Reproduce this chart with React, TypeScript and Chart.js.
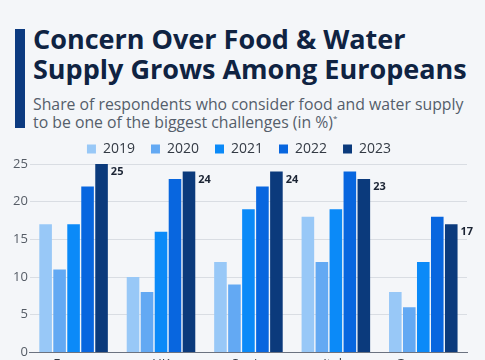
import React, { useEffect, useRef } from "react";
import { Chart, registerables } from "chart.js";

Chart.register(...registerables);

const categories = ["France", "UK", "Spain", "Italy", "Germany"];
const years = ["2019", "2020", "2021", "2022", "2023"];
const v2019 = [17, 10, 12, 18, 8];
const v2020 = [11, 8, 9, 12, 6];
const v2021 = [17, 16, 19, 19, 12];
const v2022 = [22, 23, 22, 24, 18];
const v2023 = [25, 24, 24, 23, 17];
const seriesValues = [v2019, v2020, v2021, v2022, v2023];
const colors = ["#98c8f7", "#63a9f3", "#0b8af8", "#0866df", "#0b3a7c"];
const yTicks = [0, 5, 10, 15, 20, 25];

const FONT = "'Open Sans', 'Noto Sans', sans-serif";

const lastLabels = {
  id: "lastLabels",
  afterDatasetsDraw(chart: any) {
    const ctx = chart.ctx;
    const idx = chart.data.datasets.length - 1;
    const meta = chart.getDatasetMeta(idx);
    ctx.save();
    ctx.font = `bold 11px ${FONT}`;
    ctx.fillStyle = "#1b2434";
    ctx.textAlign = "left";
    ctx.textBaseline = "middle";
    meta.data.forEach((bar: any, i: number) => {
      const w = bar.width;
      ctx.fillText(String(chart.data.datasets[idx].data[i]), bar.x + w / 2 + 3, bar.y + 8);
    });
    ctx.restore();
  },
};

const legendShrink = {
  id: "legendShrink",
  beforeInit(chart: any) {
    const orig = chart.legend.fit;
    chart.legend.fit = function () {
      orig.bind(this)();
      this.height -= 2;
    };
  },
};

export default function App() {
  const ref = useRef<HTMLCanvasElement>(null);
  useEffect(() => {
    if (!ref.current) return;
    const chart = new Chart(ref.current, {
      type: "bar",
      data: {
        labels: categories,
        datasets: years.map((y, i) => ({
          label: y,
          data: seriesValues[i],
          backgroundColor: colors[i],
          borderWidth: 0,
          categoryPercentage: 0.8,
          barPercentage: 0.9,
        })),
      },
      options: {
        animation: false,
        responsive: false,
        maintainAspectRatio: false,
        layout: { padding: { left: 11, right: 18, top: 0, bottom: 0 } },
        plugins: {
          legend: {
            position: "top",
            labels: {
              boxWidth: 9,
              boxHeight: 9,
              padding: 16,
              color: "#333a44",
              font: { family: FONT, size: 14 },
            },
          },
          tooltip: { enabled: false },
        },
        scales: {
          x: {
            grid: { display: false, drawTicks: false },
            border: { color: "#6b7280", width: 1 },
            ticks: { color: "#333a44", font: { family: FONT, size: 13 }, padding: 4 },
          },
          y: {
            min: 0,
            max: 25,
            afterBuildTicks(axis: any) {
              axis.ticks = yTicks.map((v) => ({ value: v }));
            },
            grid: { color: "#d9dde3", drawTicks: false },
            border: { display: false },
            ticks: { color: "#555c66", font: { family: FONT, size: 13 }, padding: 2 },
          },
        },
      },
      plugins: [lastLabels, legendShrink],
    });
    return () => chart.destroy();
  }, []);

  return (
    <div
      style={{
        position: "fixed",
        left: 0,
        top: 0,
        width: 485,
        height: 360,
        overflow: "hidden",
        background: "#f4f6f9",
        fontFamily: FONT,
      }}
    >
      <div style={{ position: "absolute", left: 15, top: 29, width: 10, height: 99, background: "#0c3a80" }} />
      <div
        style={{
          position: "absolute",
          left: 33,
          top: 24,
          fontSize: 27,
          lineHeight: "30px",
          fontWeight: 700,
          color: "#0f2342",
          whiteSpace: "nowrap",
        }}
      >
        Concern Over Food &amp; Water
        <br />
        Supply Grows Among Europeans
      </div>
      <div
        style={{
          position: "absolute",
          left: 33,
          top: 95,
          fontSize: 15.8,
          lineHeight: "18px",
          color: "#555e6b",
          whiteSpace: "nowrap",
        }}
      >
        Share of respondents who consider food and water supply
        <br />
        to be one of the biggest challenges (in %)<sup style={{ fontSize: 8, verticalAlign: "top", lineHeight: "10px" }}>*</sup>
      </div>
      <div style={{ position: "absolute", left: 0, top: 126, width: 485, height: 250 }}>
        <canvas ref={ref} width={485} height={250} />
      </div>
    </div>
  );
}
